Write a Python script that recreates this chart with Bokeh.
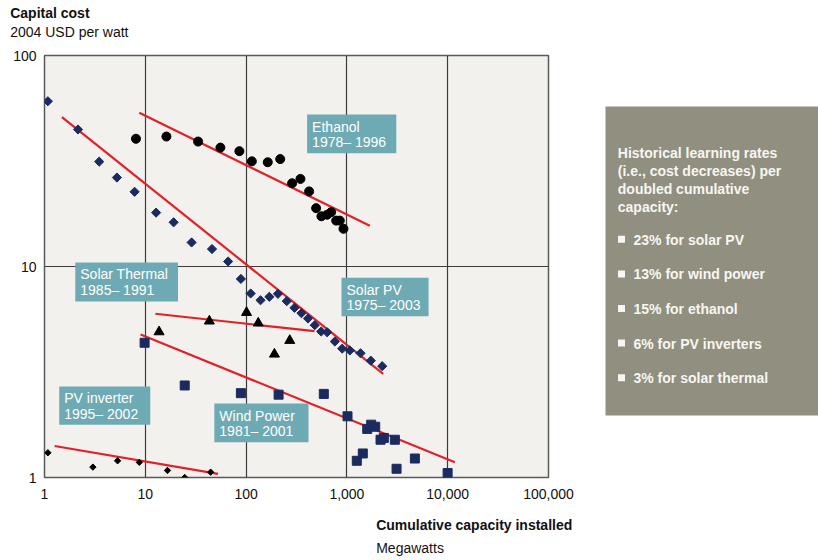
import numpy as np
from bokeh.plotting import figure
from bokeh.models import FixedTicker, NumeralTickFormatter, Title, Range1d
from bokeh.layouts import row
from bokeh.embed import file_html
from bokeh.resources import INLINE
from bokeh.core.properties import value

FONT = "Liberation Sans"

# ---------------- data ----------------
x_ticks = [1, 10, 100, 1000, 10000, 100000]
y_ticks = [1, 10, 100]

pv_x = [1.08, 2.15, 3.49, 5.23, 7.83, 12.8, 19.1, 28.8, 45.9, 66.3, 88.8, 111, 139, 170,
        207, 253, 302, 354, 411, 480, 556, 637, 759, 898, 1069, 1365, 1727, 2240]
pv_y = [60.7, 44.6, 31.4, 26.4, 22.6, 18.0, 16.2, 13.0, 12.1, 10.56, 8.73, 7.45, 6.92, 7.18,
        7.42, 6.85, 6.37, 6.01, 5.67, 5.27, 4.92, 4.88, 4.41, 4.08, 4.0, 3.88, 3.58, 3.37]

eth_x = [8.08, 16.2, 33.4, 55.6, 85.8, 114, 164, 218, 286, 346, 422, 495, 559, 637, 698, 783, 850, 925]
eth_y = [40.3, 41.3, 39.1, 36.6, 35.2, 31.5, 31.2, 32.3, 24.8, 26.0, 22.7, 18.9, 17.3, 17.6, 18.1, 16.5, 16.5, 15.1]

st_x = [13.7, 43.2, 101, 132, 191, 271]
st_y = [4.90, 5.51, 6.05, 5.39, 3.84, 4.46]

wind_x = [9.84, 24.6, 88.8, 210, 590, 1014, 1254, 1438, 1591, 1742, 1910, 2156, 2325, 2990, 3109, 4723, 9980]
wind_y = [4.35, 2.73, 2.51, 2.47, 2.49, 1.95, 1.20, 1.30, 1.70, 1.78, 1.74, 1.51, 1.54, 1.51, 1.10, 1.23, 1.05]

inv_x = [1.08, 3.02, 5.31, 8.72, 16.6, 24.6, 44.5]
inv_y = [1.31, 1.12, 1.20, 1.18, 1.08, 1.00, 1.06]

# learning-curve trend lines (end points)
pv_fit_x, pv_fit_y = [1.49, 2290], [51.0, 3.10]
eth_fit_x, eth_fit_y = [8.72, 1688], [53.5, 15.6]
st_fit_x, st_fit_y = [12.6, 477], [5.97, 4.94]
wind_fit_x, wind_fit_y = [8.98, 11790], [4.76, 1.18]
inv_fit_x, inv_fit_y = [1.26, 52.7], [1.41, 1.04]

series_labels = ["Ethanol\n1978\u2013 1996", "Solar Thermal\n1985\u2013 1991", "Solar PV\n1975\u2013 2003",
                 "PV inverter\n1995\u2013 2002", "Wind Power\n1981\u2013 2001"]

panel_heading = "Historical learning rates\n(i.e., cost decreases) per\ndoubled cumulative\ncapacity:"
panel_items = ["23% for solar PV", "13% for wind power", "15% for ethanol",
               "6% for PV inverters", "3% for solar thermal"]

# ---------------- styles ----------------
NAVY = "#1c2b5f"
RED = "#e2202a"
TEAL = "#6eaab3"
PANEL = "#918f80"
TXT = "#111111"
PTXT = "#f7f6f2"

# label box extents (data units, layout only)
box_left = [403, 2.02, 884, 1.40, 48.4]
box_right = [3090, 21.1, 6462, 11.2, 416]
box_top = [52.5, 10.45, 8.84, 2.70, 2.24]
box_bottom = [34.4, 6.83, 5.81, 1.78, 1.47]

TOP, FH, BOT = 55, 422, 83

p = figure(x_axis_type="log", y_axis_type="log", title=None,
           x_range=Range1d(1, 100000), y_range=Range1d(1, 100),
           frame_width=504, frame_height=FH,
           min_border_left=44, min_border_right=42, min_border_top=TOP, min_border_bottom=BOT,
           output_backend="svg", toolbar_location=None,
           background_fill_color="#f2f1ed", border_fill_color="white",
           outline_line_color="#5a5a5a", outline_line_width=1.5)

p.xaxis.ticker = FixedTicker(ticks=x_ticks)
p.yaxis.ticker = FixedTicker(ticks=y_ticks)
p.axis.formatter = NumeralTickFormatter(format="0,0")
p.axis.axis_line_color = None
p.axis.major_tick_line_color = None
p.axis.minor_tick_line_color = None
p.axis.major_tick_out = 0
p.axis.major_tick_in = 0
p.axis.minor_tick_out = 0
p.axis.major_label_text_font = FONT
p.axis.major_label_text_font_size = "14px"
p.axis.major_label_text_color = TXT
p.xaxis.major_label_standoff = 11
p.yaxis.major_label_standoff = 8

p.xgrid.ticker = FixedTicker(ticks=x_ticks[1:-1])
p.ygrid.ticker = FixedTicker(ticks=y_ticks[1:-1])
p.grid.grid_line_color = "#3c3c3c"
p.grid.grid_line_width = 1.2

# trend lines
for fx, fy in [(pv_fit_x, pv_fit_y), (eth_fit_x, eth_fit_y), (st_fit_x, st_fit_y),
               (wind_fit_x, wind_fit_y), (inv_fit_x, inv_fit_y)]:
    p.line(fx, fy, line_color=RED, line_width=2.2)

# points
p.scatter(pv_x, pv_y, marker="square", angle=np.pi / 4, size=6.5, fill_color=NAVY, line_color=NAVY)
p.scatter(eth_x, eth_y, marker="circle", size=9, fill_color="black", line_color="black")
p.scatter(st_x, st_y, marker="triangle", size=10, fill_color="black", line_color="black")
p.scatter(wind_x, wind_y, marker="square", size=9, fill_color=NAVY, line_color=NAVY)
p.scatter(inv_x, inv_y, marker="square", angle=np.pi / 4, size=4.5, fill_color="black", line_color="black")

# series label boxes
p.quad(left=box_left, right=box_right, top=box_top, bottom=box_bottom,
       fill_color=TEAL, line_color=None)
p.text(x=box_left, y=box_top, text=series_labels, x_offset=5, y_offset=4,
       text_baseline="top", text_align="left", text_color="white",
       text_font=value(FONT), text_font_size="14px", text_line_height=0.97)

# titles in the side panels (listed from the frame outward)
def title(txt, place, offset, standoff, bold=False):
    p.add_layout(Title(text=txt, align="left", offset=offset, standoff=standoff,
                       text_font=FONT, text_font_size="14px",
                       text_font_style="bold" if bold else "normal",
                       text_color=TXT), place)

title("2004 USD per watt", "above", -34.3, 32)
title("Capital cost", "above", -34.3, -30.8, bold=True)
title("Cumulative capacity installed", "below", 331.7, 27.2, bold=True)
title("Megawatts", "below", 331.7, -19.4)

# ---------------- side panel ----------------
PW = 228
p2 = figure(frame_width=PW, frame_height=FH, title=None,
            x_range=Range1d(0, PW), y_range=Range1d(FH, 0),
            min_border_left=0, min_border_right=0, min_border_top=TOP, min_border_bottom=BOT,
            x_axis_location=None, y_axis_location=None,
            output_backend="svg", toolbar_location=None,
            background_fill_color="white", border_fill_color="white", outline_line_color=None)
p2.xgrid.visible = False
p2.ygrid.visible = False

p2.quad(left=[15], right=[PW], top=[51], bottom=[360], fill_color=PANEL, line_color=None)

p2.text(x=[27.3], y=[89.7], text=[panel_heading], text_baseline="top", text_align="left",
        text_color=PTXT, text_font=value(FONT), text_font_size="14px",
        text_font_style="bold", text_line_height=1.12)

item_y = [176.2 + 34.6 * i for i in range(len(panel_items))]
p2.scatter(x=[31.0] * len(panel_items), y=[v + 7.6 for v in item_y], marker="square",
           size=7, fill_color=PTXT, line_color=None)
p2.text(x=[43.0] * len(panel_items), y=item_y, text=panel_items, text_baseline="top",
        text_align="left", text_color=PTXT, text_font=value(FONT), text_font_size="14px",
        text_font_style="bold")

layout = row(p, p2)
open("out.html", "w").write(file_html(layout, INLINE))
